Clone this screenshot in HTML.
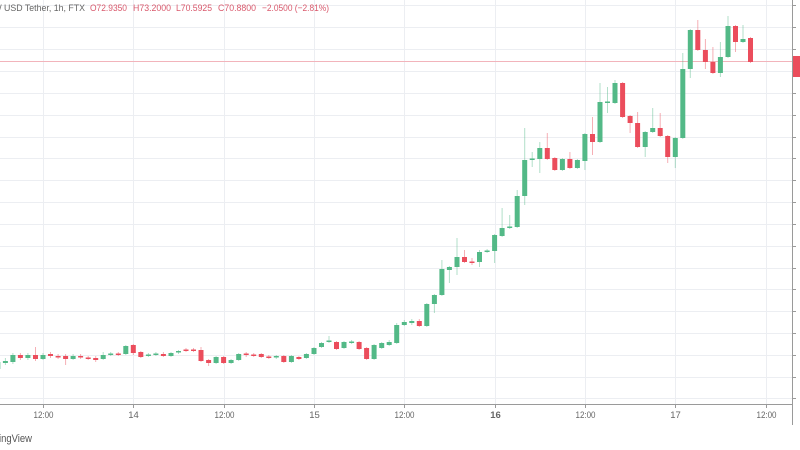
<!DOCTYPE html>
<html><head><meta charset="utf-8"><style>
html,body{margin:0;padding:0;background:#fff;}
svg{display:block;}
text{font-family:"Liberation Sans",sans-serif;}
</style></head><body>
<svg width="800" height="450" viewBox="0 0 800 450" xmlns="http://www.w3.org/2000/svg">
<rect width="800" height="450" fill="#fff"/>
<g stroke="#eceef2" stroke-width="1">
<line x1="0" y1="5.5" x2="792" y2="5.5"/><line x1="0" y1="27.5" x2="792" y2="27.5"/><line x1="0" y1="49.5" x2="792" y2="49.5"/><line x1="0" y1="71.5" x2="792" y2="71.5"/><line x1="0" y1="93.5" x2="792" y2="93.5"/><line x1="0" y1="115.5" x2="792" y2="115.5"/><line x1="0" y1="137.5" x2="792" y2="137.5"/><line x1="0" y1="158.5" x2="792" y2="158.5"/><line x1="0" y1="180.5" x2="792" y2="180.5"/><line x1="0" y1="202.5" x2="792" y2="202.5"/><line x1="0" y1="224.5" x2="792" y2="224.5"/><line x1="0" y1="246.5" x2="792" y2="246.5"/><line x1="0" y1="268.5" x2="792" y2="268.5"/><line x1="0" y1="289.5" x2="792" y2="289.5"/><line x1="0" y1="311.5" x2="792" y2="311.5"/><line x1="0" y1="333.5" x2="792" y2="333.5"/><line x1="0" y1="355.5" x2="792" y2="355.5"/><line x1="0" y1="377.5" x2="792" y2="377.5"/><line x1="0" y1="398.5" x2="792" y2="398.5"/>
<line x1="43.5" y1="0" x2="43.5" y2="404"/><line x1="133.5" y1="0" x2="133.5" y2="404"/><line x1="224.5" y1="0" x2="224.5" y2="404"/><line x1="314.5" y1="0" x2="314.5" y2="404"/><line x1="404.5" y1="0" x2="404.5" y2="404"/><line x1="495.5" y1="0" x2="495.5" y2="404"/><line x1="585.5" y1="0" x2="585.5" y2="404"/><line x1="675.5" y1="0" x2="675.5" y2="404"/><line x1="766.5" y1="0" x2="766.5" y2="404"/>
</g>
<line x1="0" y1="61.5" x2="792" y2="61.5" stroke="#f2b4bb" stroke-width="1"/>
<g id="candles">
<g stroke="#53b987" stroke-opacity="0.45" stroke-width="1">
<line x1="-2.2" y1="360" x2="-2.2" y2="371"/><line x1="5.4" y1="358" x2="5.4" y2="365"/><line x1="12.9" y1="353" x2="12.9" y2="364"/><line x1="27.9" y1="353" x2="27.9" y2="360"/><line x1="43" y1="353" x2="43" y2="360"/><line x1="73.1" y1="354" x2="73.1" y2="360"/><line x1="103.2" y1="352" x2="103.2" y2="360"/><line x1="110.7" y1="352" x2="110.7" y2="356"/><line x1="125.8" y1="345" x2="125.8" y2="355"/><line x1="148.4" y1="353" x2="148.4" y2="357"/><line x1="155.9" y1="352" x2="155.9" y2="356"/><line x1="171" y1="352" x2="171" y2="357"/><line x1="178.5" y1="350" x2="178.5" y2="354"/><line x1="216.1" y1="356" x2="216.1" y2="364"/><line x1="231.1" y1="359" x2="231.1" y2="364"/><line x1="238.7" y1="353" x2="238.7" y2="361"/><line x1="276.3" y1="355" x2="276.3" y2="359"/><line x1="291.4" y1="355" x2="291.4" y2="363"/><line x1="306.4" y1="353" x2="306.4" y2="359"/><line x1="314" y1="347" x2="314" y2="355"/><line x1="321.5" y1="342" x2="321.5" y2="348"/><line x1="329" y1="336" x2="329" y2="343"/><line x1="344" y1="341" x2="344" y2="349"/><line x1="351.6" y1="340" x2="351.6" y2="344"/><line x1="374.1" y1="344" x2="374.1" y2="360"/><line x1="381.7" y1="342" x2="381.7" y2="349"/><line x1="389.2" y1="340" x2="389.2" y2="346"/><line x1="396.7" y1="323" x2="396.7" y2="344"/><line x1="404.3" y1="320" x2="404.3" y2="326"/><line x1="411.8" y1="319" x2="411.8" y2="325"/><line x1="426.8" y1="303" x2="426.8" y2="327"/><line x1="434.4" y1="294" x2="434.4" y2="313"/><line x1="441.9" y1="260" x2="441.9" y2="296"/><line x1="449.4" y1="266" x2="449.4" y2="283"/><line x1="457" y1="238" x2="457" y2="275"/><line x1="479.5" y1="250" x2="479.5" y2="267"/><line x1="487.1" y1="249" x2="487.1" y2="253"/><line x1="494.6" y1="234" x2="494.6" y2="263"/><line x1="502.1" y1="208" x2="502.1" y2="237"/><line x1="509.7" y1="215" x2="509.7" y2="229"/><line x1="517.2" y1="190" x2="517.2" y2="228"/><line x1="524.7" y1="128" x2="524.7" y2="205"/><line x1="532.2" y1="152" x2="532.2" y2="167"/><line x1="539.8" y1="142" x2="539.8" y2="173"/><line x1="562.4" y1="158" x2="562.4" y2="171"/><line x1="577.4" y1="159" x2="577.4" y2="169"/><line x1="584.9" y1="133" x2="584.9" y2="170"/><line x1="600" y1="83" x2="600" y2="143"/><line x1="607.5" y1="87" x2="607.5" y2="113"/><line x1="615" y1="80" x2="615" y2="104"/><line x1="645.2" y1="131" x2="645.2" y2="157"/><line x1="652.7" y1="108" x2="652.7" y2="133"/><line x1="675.3" y1="137" x2="675.3" y2="168"/><line x1="682.8" y1="53" x2="682.8" y2="139"/><line x1="690.3" y1="29" x2="690.3" y2="78"/><line x1="720.4" y1="42" x2="720.4" y2="77"/><line x1="728" y1="16" x2="728" y2="58"/><line x1="743" y1="25" x2="743" y2="43"/>
</g>
<g stroke="#eb4d5c" stroke-opacity="0.45" stroke-width="1">
<line x1="20.4" y1="353" x2="20.4" y2="360"/><line x1="35.5" y1="347" x2="35.5" y2="361"/><line x1="50.5" y1="352" x2="50.5" y2="358"/><line x1="58.1" y1="354" x2="58.1" y2="359"/><line x1="65.6" y1="354" x2="65.6" y2="365"/><line x1="80.6" y1="354" x2="80.6" y2="359"/><line x1="88.2" y1="356" x2="88.2" y2="360"/><line x1="95.7" y1="356" x2="95.7" y2="362"/><line x1="118.3" y1="352" x2="118.3" y2="356"/><line x1="133.3" y1="344" x2="133.3" y2="355"/><line x1="140.8" y1="351" x2="140.8" y2="358"/><line x1="163.4" y1="352" x2="163.4" y2="357"/><line x1="186" y1="348" x2="186" y2="352"/><line x1="193.5" y1="348" x2="193.5" y2="352"/><line x1="201" y1="347" x2="201" y2="362"/><line x1="208.6" y1="359" x2="208.6" y2="366"/><line x1="223.6" y1="356" x2="223.6" y2="364"/><line x1="246.2" y1="352" x2="246.2" y2="357"/><line x1="253.7" y1="353" x2="253.7" y2="357"/><line x1="261.3" y1="353" x2="261.3" y2="358"/><line x1="268.8" y1="355" x2="268.8" y2="359"/><line x1="283.8" y1="355" x2="283.8" y2="363"/><line x1="298.9" y1="356" x2="298.9" y2="360"/><line x1="336.5" y1="341" x2="336.5" y2="350"/><line x1="359.1" y1="341" x2="359.1" y2="350"/><line x1="366.6" y1="347" x2="366.6" y2="360"/><line x1="419.3" y1="319" x2="419.3" y2="327"/><line x1="464.5" y1="250" x2="464.5" y2="263"/><line x1="472" y1="258" x2="472" y2="265"/><line x1="547.3" y1="133" x2="547.3" y2="160"/><line x1="554.8" y1="157" x2="554.8" y2="171"/><line x1="569.9" y1="152" x2="569.9" y2="169"/><line x1="592.5" y1="117" x2="592.5" y2="155"/><line x1="622.6" y1="82" x2="622.6" y2="118"/><line x1="630.1" y1="115" x2="630.1" y2="133"/><line x1="637.6" y1="112" x2="637.6" y2="148"/><line x1="660.2" y1="113" x2="660.2" y2="137"/><line x1="667.7" y1="135" x2="667.7" y2="163"/><line x1="697.8" y1="20" x2="697.8" y2="51"/><line x1="705.4" y1="39" x2="705.4" y2="69"/><line x1="712.9" y1="47" x2="712.9" y2="74"/><line x1="735.5" y1="25" x2="735.5" y2="52"/><line x1="750.5" y1="37" x2="750.5" y2="63"/>
</g>
<g fill="#53b987">
<rect x="-4.7" y="362" width="5" height="7"/><rect x="2.9" y="361" width="5" height="2"/><rect x="10.4" y="355" width="5" height="7"/><rect x="25.4" y="355" width="5" height="3"/><rect x="40.5" y="355" width="5" height="4"/><rect x="70.6" y="356" width="5" height="3"/><rect x="100.7" y="355" width="5" height="4"/><rect x="108.2" y="353.5" width="5" height="1.5"/><rect x="123.3" y="346" width="5" height="8"/><rect x="145.9" y="354.5" width="5" height="1.5"/><rect x="153.4" y="353.5" width="5" height="1.5"/><rect x="168.5" y="353" width="5" height="3"/><rect x="176" y="351" width="5" height="1.5"/><rect x="213.6" y="357" width="5" height="6"/><rect x="228.6" y="360" width="5" height="3"/><rect x="236.2" y="354" width="5" height="6"/><rect x="273.8" y="356" width="5" height="1.5"/><rect x="288.9" y="356" width="5" height="6"/><rect x="303.9" y="354" width="5" height="4"/><rect x="311.5" y="348" width="5" height="6"/><rect x="319" y="343" width="5" height="4"/><rect x="326.5" y="340.5" width="5" height="1.5"/><rect x="341.5" y="342" width="5" height="6"/><rect x="349.1" y="341.5" width="5" height="1.5"/><rect x="371.6" y="345" width="5" height="14"/><rect x="379.2" y="343" width="5" height="5"/><rect x="386.7" y="342" width="5" height="3"/><rect x="394.2" y="325" width="5" height="18"/><rect x="401.8" y="322" width="5" height="3"/><rect x="409.3" y="321" width="5" height="2"/><rect x="424.3" y="304" width="5" height="22"/><rect x="431.9" y="295" width="5" height="9"/><rect x="439.4" y="269" width="5" height="26"/><rect x="446.9" y="267" width="5" height="3"/><rect x="454.5" y="257" width="5" height="10"/><rect x="477" y="252" width="5" height="10"/><rect x="484.6" y="250.5" width="5" height="1.5"/><rect x="492.1" y="235" width="5" height="16"/><rect x="499.6" y="228" width="5" height="8"/><rect x="507.2" y="226.5" width="5" height="1.5"/><rect x="514.7" y="196" width="5" height="31"/><rect x="522.2" y="160" width="5" height="36"/><rect x="529.7" y="158.5" width="5" height="1.5"/><rect x="537.3" y="148" width="5" height="11"/><rect x="559.9" y="159" width="5" height="11"/><rect x="574.9" y="160" width="5" height="8"/><rect x="582.4" y="134" width="5" height="27"/><rect x="597.5" y="102" width="5" height="40"/><rect x="605" y="101.5" width="5" height="1.5"/><rect x="612.5" y="83" width="5" height="20"/><rect x="642.7" y="132" width="5" height="15"/><rect x="650.2" y="128" width="5" height="4"/><rect x="672.8" y="138" width="5" height="19"/><rect x="680.3" y="69" width="5" height="69"/><rect x="687.8" y="30" width="5" height="39"/><rect x="717.9" y="57" width="5" height="16"/><rect x="725.5" y="26" width="5" height="31"/><rect x="740.5" y="39" width="5" height="3"/>
</g>
<g fill="#eb4d5c">
<rect x="17.9" y="355" width="5" height="3"/><rect x="33" y="355" width="5" height="4"/><rect x="48" y="354" width="5" height="2"/><rect x="55.6" y="356" width="5" height="1.5"/><rect x="63.1" y="356" width="5" height="3"/><rect x="78.1" y="356" width="5" height="1.5"/><rect x="85.7" y="357.5" width="5" height="1.5"/><rect x="93.2" y="358" width="5" height="2"/><rect x="115.8" y="353.5" width="5" height="1.5"/><rect x="130.8" y="345" width="5" height="8"/><rect x="138.3" y="352" width="5" height="5"/><rect x="160.9" y="354" width="5" height="2"/><rect x="183.5" y="349.5" width="5" height="1.5"/><rect x="191" y="349.5" width="5" height="1.5"/><rect x="198.5" y="350" width="5" height="11"/><rect x="206.1" y="360" width="5" height="3"/><rect x="221.1" y="357" width="5" height="6"/><rect x="243.7" y="353.5" width="5" height="1.5"/><rect x="251.2" y="354.5" width="5" height="1.5"/><rect x="258.8" y="354" width="5" height="3"/><rect x="266.3" y="356.5" width="5" height="1.5"/><rect x="281.3" y="356" width="5" height="6"/><rect x="296.4" y="357" width="5" height="2"/><rect x="334" y="342" width="5" height="7"/><rect x="356.6" y="342" width="5" height="7"/><rect x="364.1" y="348" width="5" height="11"/><rect x="416.8" y="321" width="5" height="5"/><rect x="462" y="257" width="5" height="5"/><rect x="469.5" y="261.5" width="5" height="1.5"/><rect x="544.8" y="148" width="5" height="11"/><rect x="552.3" y="158" width="5" height="12"/><rect x="567.4" y="159" width="5" height="9"/><rect x="590" y="134" width="5" height="8"/><rect x="620.1" y="83" width="5" height="34"/><rect x="627.6" y="116" width="5" height="7"/><rect x="635.1" y="123" width="5" height="24"/><rect x="657.7" y="128" width="5" height="8"/><rect x="665.2" y="136" width="5" height="21"/><rect x="695.3" y="30" width="5" height="20"/><rect x="702.9" y="50" width="5" height="12"/><rect x="710.4" y="62" width="5" height="11"/><rect x="733" y="26" width="5" height="16"/><rect x="748" y="38" width="5" height="24"/>
</g>
</g>
<line x1="0" y1="404.5" x2="792" y2="404.5" stroke="#9a9a9a" stroke-width="1"/>
<line x1="792.5" y1="0" x2="792.5" y2="425" stroke="#9a9a9a" stroke-width="1"/>
<g stroke="#9a9a9a" stroke-width="1">
<line x1="43.5" y1="405" x2="43.5" y2="408"/><line x1="133.5" y1="405" x2="133.5" y2="408"/><line x1="224.5" y1="405" x2="224.5" y2="408"/><line x1="314.5" y1="405" x2="314.5" y2="408"/><line x1="404.5" y1="405" x2="404.5" y2="408"/><line x1="495.5" y1="405" x2="495.5" y2="408"/><line x1="585.5" y1="405" x2="585.5" y2="408"/><line x1="675.5" y1="405" x2="675.5" y2="408"/><line x1="766.5" y1="405" x2="766.5" y2="408"/>
<line x1="793" y1="5.5" x2="796" y2="5.5"/><line x1="793" y1="27.5" x2="796" y2="27.5"/><line x1="793" y1="49.5" x2="796" y2="49.5"/><line x1="793" y1="71.5" x2="796" y2="71.5"/><line x1="793" y1="93.5" x2="796" y2="93.5"/><line x1="793" y1="115.5" x2="796" y2="115.5"/><line x1="793" y1="137.5" x2="796" y2="137.5"/><line x1="793" y1="158.5" x2="796" y2="158.5"/><line x1="793" y1="180.5" x2="796" y2="180.5"/><line x1="793" y1="202.5" x2="796" y2="202.5"/><line x1="793" y1="224.5" x2="796" y2="224.5"/><line x1="793" y1="246.5" x2="796" y2="246.5"/><line x1="793" y1="268.5" x2="796" y2="268.5"/><line x1="793" y1="289.5" x2="796" y2="289.5"/><line x1="793" y1="311.5" x2="796" y2="311.5"/><line x1="793" y1="333.5" x2="796" y2="333.5"/><line x1="793" y1="355.5" x2="796" y2="355.5"/><line x1="793" y1="377.5" x2="796" y2="377.5"/><line x1="793" y1="398.5" x2="796" y2="398.5"/>
</g>
<rect x="793" y="56" width="7" height="21" fill="#eb4d5c"/>
<g font-size="9.5" fill="#666" text-anchor="middle">
<text x="43.5" y="418" textLength="20" lengthAdjust="spacingAndGlyphs">12:00</text>
<text x="133.5" y="418">14</text>
<text x="224.5" y="418" textLength="20" lengthAdjust="spacingAndGlyphs">12:00</text>
<text x="314.5" y="418">15</text>
<text x="404.5" y="418" textLength="20" lengthAdjust="spacingAndGlyphs">12:00</text>
<text x="495.5" y="418" font-weight="bold">16</text>
<text x="585.5" y="418" textLength="20" lengthAdjust="spacingAndGlyphs">12:00</text>
<text x="675.5" y="418">17</text>
<text x="766.5" y="418" textLength="20" lengthAdjust="spacingAndGlyphs">12:00</text>
</g>
<text x="-1" y="442" font-size="11" fill="#555" textLength="33" lengthAdjust="spacingAndGlyphs">ingView</text>
<g font-size="9.5">
<text x="-1" y="11" fill="#666">/</text>
<text x="4" y="11" fill="#666" textLength="81" lengthAdjust="spacingAndGlyphs">USD Tether, 1h, FTX</text>
<text x="90" y="11" fill="#d9596c" textLength="37" lengthAdjust="spacingAndGlyphs">O72.9350</text>
<text x="133" y="11" fill="#d9596c" textLength="38" lengthAdjust="spacingAndGlyphs">H73.2000</text>
<text x="176" y="11" fill="#d9596c" textLength="36" lengthAdjust="spacingAndGlyphs">L70.5925</text>
<text x="218" y="11" fill="#d9596c" textLength="38" lengthAdjust="spacingAndGlyphs">C70.8800</text>
<text x="262" y="11" fill="#d9596c" textLength="67" lengthAdjust="spacingAndGlyphs">−2.0500 (−2.81%)</text>
</g>
</svg>
</body></html>
